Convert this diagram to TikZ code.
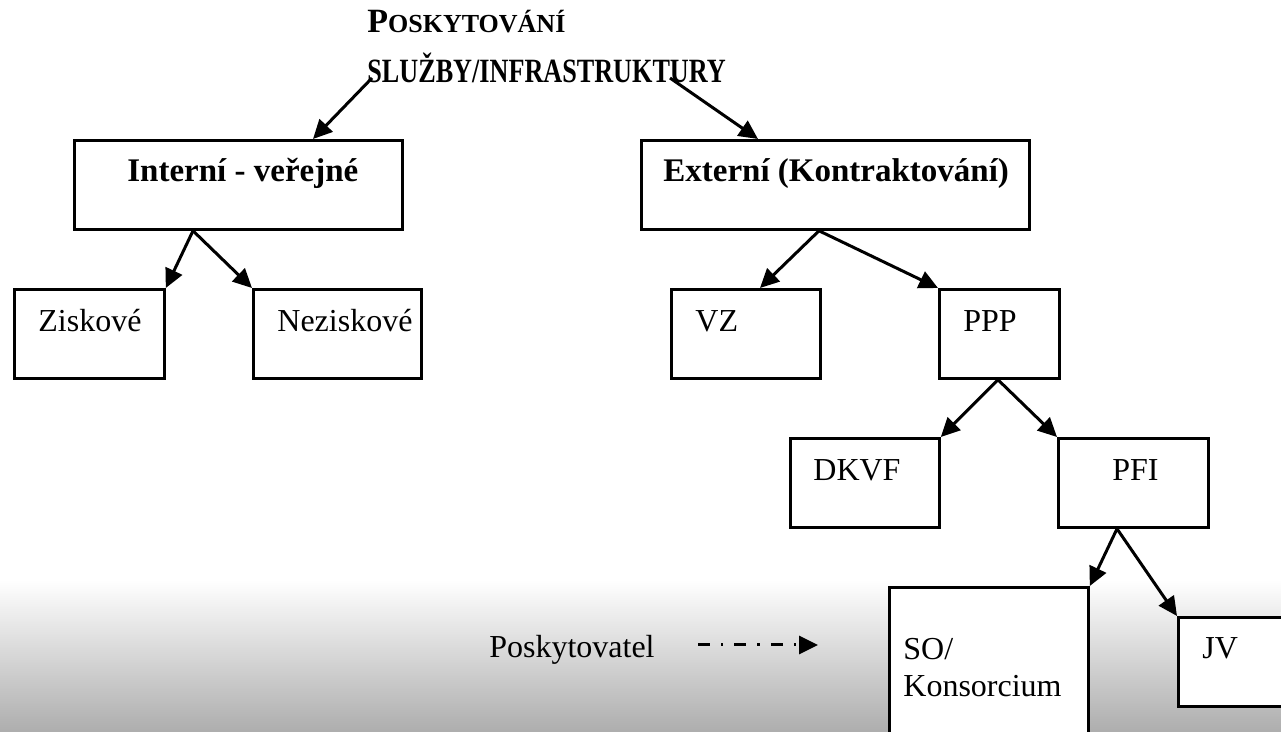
\documentclass[tikz,border=0pt]{standalone}
\usepackage{graphicx}
\usepackage{fontspec}
\setmainfont{Liberation Serif}
\usetikzlibrary{arrows.meta}

\begin{document}
\begin{tikzpicture}[
  x=0.5pt, y=-0.5pt,
  blok/.style={draw, line width=1.4pt, fill=white, anchor=north west, inner sep=0, minimum height=44.5pt},
  txt/.style={font=\fontsize{16}{19}\selectfont, anchor=base west, inner sep=0},
  tucne/.style={txt, font=\fontsize{16.5}{19}\selectfont\bfseries},
  sipka/.style={line width=1.5pt, -{Triangle[length=9.5pt,width=9pt]}},
  legenda/.style={line width=1.5pt, dash pattern=on 6pt off 5.5pt on 1.2pt off 5.5pt, -{Triangle[length=9.5pt,width=9pt]}}
]

\useasboundingbox (0,0) rectangle (1281,732);
\clip (0,0) rectangle (1281,732);
\shade [top color=white, bottom color=black!32] (0,580) rectangle (1281,732);

\node [tucne, font=\fontsize{17}{20}\selectfont\bfseries] (titul1) at (367,33) {P{\fontsize{13}{16}\selectfont OSKYTOVÁNÍ}};
\node [tucne, font=\fontsize{17}{20}\selectfont\bfseries] (titul) at (367,83) {\scalebox{0.77}[1]{SLUŽBY/INFRASTRUKTURY}};

\node [blok, minimum width=164pt] (interni) at (73,139) {};
\node [tucne] (interni-t) at ([shift={(54,43)}]interni.north west) {Interní - veřejné};
\node [blok, minimum width=194pt] (externi) at (640,139) {};
\node [tucne] (externi-t) at ([shift={(23,43)}]externi.north west) {Externí (Kontraktování)};

\node [blok, minimum width=75pt] (zisk) at (13,288) {};
\node [txt] (zisk-t) at ([shift={(25,44)}]zisk.north west) {Ziskové};
\node [blok, minimum width=84pt] (nezisk) at (252,288) {};
\node [txt] (nezisk-t) at ([shift={(25,44)}]nezisk.north west) {Neziskové};

\node [blok, minimum width=74.5pt] (vz) at (670,288) {};
\node [txt] (vz-t) at ([shift={(25,44)}]vz.north west) {VZ};
\node [blok, minimum width=60pt] (ppp) at (938,288) {};
\node [txt] (ppp-t) at ([shift={(25,44)}]ppp.north west) {PPP};

\node [blok, minimum width=74.5pt] (dkvf) at (789,437) {};
\node [txt] (dkvf-t) at ([shift={(24,44)}]dkvf.north west) {DKVF};
\node [blok, minimum width=75pt] (pfi) at (1057,437) {};
\node [txt] (pfi-t) at ([shift={(55,44)}]pfi.north west) {PFI};

\node [blok, minimum width=99.5pt, minimum height=100pt] (so) at (888,586) {};
\node [txt] (so-t1) at ([shift={(15,74)}]so.north west) {SO/};
\node [txt] (so-t2) at ([shift={(15,111)}]so.north west) {Konsorcium};
\node [blok, minimum width=75pt] (jv) at (1177,616) {};
\node [txt] (jv-t) at ([shift={(25,43)}]jv.north west) {JV};

\node [txt, anchor=base east] (posk) at (655,658) {Poskytovatel};
\coordinate (hrot) at (818,645);
\draw [legenda] ([shift={(43,-13)}]posk.base east) -- (hrot);

\draw [sipka] ([shift={(5,-5)}]titul.base west) -- ([shift={(240,0)}]interni.north west);
\draw [sipka] ([shift={(303,-5)}]titul.base west) -- ([shift={(118,0)}]externi.north west);
\draw [sipka] ([shift={(120,0)}]interni.south west) -- (zisk.north east);
\draw [sipka] ([shift={(120,0)}]interni.south west) -- (nezisk.north west);
\draw [sipka] ([shift={(179,0)}]externi.south west) -- ([shift={(90,0)}]vz.north west);
\draw [sipka] ([shift={(179,0)}]externi.south west) -- (ppp.north west);
\draw [sipka] ([shift={(60,0)}]ppp.south west) -- (dkvf.north east);
\draw [sipka] ([shift={(60,0)}]ppp.south west) -- (pfi.north west);
\draw [sipka] ([shift={(60,0)}]pfi.south west) -- (so.north east);
\draw [sipka] ([shift={(60,0)}]pfi.south west) -- (jv.north west);

\end{tikzpicture}
\end{document}
